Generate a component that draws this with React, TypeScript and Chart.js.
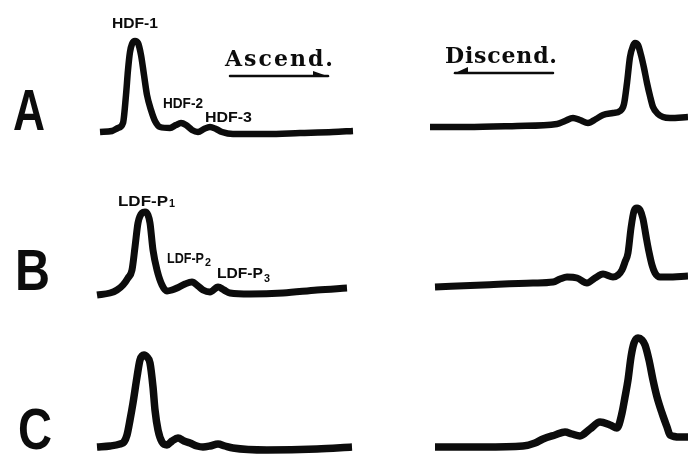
import React, { useEffect, useRef } from "react";
import { Chart, registerables } from "chart.js";

Chart.register(...registerables);

// ---- Data: elution position (x) and absorbance height (y) for each trace ----
const ascendAX = [10, 22, 28, 33, 36, 38, 40, 42, 45, 48, 51, 54, 57, 61, 65, 70, 80, 86, 91, 96, 102, 108, 114, 120, 126, 132, 143, 177, 210, 243, 263];
const ascendAY = [0, 1, 4, 9, 37, 62, 80, 88, 91, 89, 77, 57, 37, 22, 11, 5, 4, 7, 9, 7, 2, 0, 3, 5, 3, 0, -2, -2, -1, 0, 1];

const descendAX = [10, 47, 97, 137, 145, 153, 160, 168, 176, 183, 193, 200, 204, 207, 210, 213, 215, 218, 221, 224, 227, 230, 233, 238, 243, 250, 268];
const descendAY = [5, 5, 6, 8, 11, 14, 12, 9, 13, 17, 19, 21, 28, 49, 75, 86, 89, 87, 77, 64, 49, 36, 25, 18, 15, 14, 15];

const ascendBX = [7, 20, 27, 33, 38, 42, 45, 48, 52, 55, 58, 60, 63, 67, 72, 77, 82, 87, 95, 102, 108, 113, 120, 128, 134, 140, 160, 193, 227, 257];
const ascendBY = [0, 2, 5, 10, 17, 25, 48, 72, 82, 83, 80, 72, 45, 25, 10, 4, 5, 7, 11, 13, 9, 5, 3, 8, 5, 2, 1, 2, 5, 7];

const descendBX = [15, 63, 113, 133, 140, 147, 157, 167, 175, 183, 193, 198, 202, 205, 208, 211, 214, 217, 220, 223, 226, 229, 232, 235, 240, 247, 268];
const descendBY = [8, 10, 12, 13, 16, 18, 17, 12, 17, 21, 18, 20, 25, 33, 42, 67, 84, 87, 85, 76, 59, 43, 30, 22, 18, 18, 19];

const ascendCX = [7, 20, 30, 34, 37, 40, 43, 47, 50, 54, 57, 60, 63, 65, 68, 72, 77, 82, 88, 94, 100, 107, 113, 120, 128, 135, 143, 177, 227, 262];
const ascendCY = [3, 4, 6, 8, 15, 30, 47, 73, 90, 95, 93, 87, 63, 40, 20, 8, 5, 9, 12, 9, 7, 4, 3, 4, 6, 4, 2, 0, 1, 3];

const descendCX = [15, 63, 103, 115, 123, 135, 145, 152, 160, 170, 180, 190, 197, 202, 205, 208, 211, 214, 218, 222, 225, 229, 233, 237, 242, 247, 250, 260, 268];
const descendCY = [3, 3, 4, 7, 11, 15, 18, 16, 14, 21, 28, 25, 22, 37, 53, 70, 93, 107, 112, 110, 105, 90, 70, 53, 37, 23, 15, 13, 13];

const rowLetters = ["A", "B", "C"];
const peakNamesA = ["HDF-1", "HDF-2", "HDF-3"];
const peakNamesB = ["LDF-P", "LDF-P", "LDF-P"];
const peakSubsB = ["1", "2", "3"];
const directionLabels = ["Ascend.", "Discend."];

// ---- styles ----
const INK = "#0c0c0c";
const FONT_LETTER = 'bold 58px "Liberation Sans", Arial, sans-serif';
const FONT_TAG = 'bold 15px "Liberation Sans", Arial, sans-serif';
const FONT_SUB = 'bold 10px "Liberation Sans", Arial, sans-serif';
const FONT_TYPE = 'bold 22px "DejaVu Serif", "Liberation Serif", serif';

type Label = { text: string; x: number; y: number; font: string; w: number; sub?: string; subDy?: number; spread?: boolean };
type Arrow = { x1: number; x2: number; y: number; head: "start" | "end" };

type PanelProps = {
  left: number; top: number; width: number; height: number;
  xMin: number; xMax: number; yMin: number; yMax: number;
  xs: number[]; ys: number[]; lw: number;
  labels?: Label[]; arrows?: Arrow[];
};

function drawFitted(ctx: CanvasRenderingContext2D, text: string, px: number, py: number, font: string, w: number, spread?: boolean) {
  ctx.save();
  ctx.font = font;
  if (spread) {
    const m0 = ctx.measureText(text).width;
    const n = text.length;
    const gap = n > 1 ? (w - m0) / (n - 1) : 0;
    let cx = px;
    for (const ch of text) {
      ctx.fillText(ch, cx, py);
      cx += ctx.measureText(ch).width + gap;
    }
  } else {
    const m = ctx.measureText(text).width;
    ctx.translate(px, py);
    ctx.scale(w / m, 1);
    ctx.fillText(text, 0, 0);
  }
  ctx.restore();
}

function Panel(p: PanelProps) {
  const ref = useRef<HTMLCanvasElement | null>(null);
  useEffect(() => {
    if (!ref.current) return;
    const labels = p.labels || [];
    const arrows = p.arrows || [];
    const annot = {
      id: "annot",
      afterDatasetsDraw(chart: any) {
        const ctx: CanvasRenderingContext2D = chart.ctx;
        const sx = chart.scales.x;
        const sy = chart.scales.y;
        ctx.save();
        ctx.fillStyle = INK;
        ctx.strokeStyle = INK;
        ctx.textBaseline = "alphabetic";
        ctx.textAlign = "left";
        for (const l of labels) {
          const px = sx.getPixelForValue(l.x);
          const py = sy.getPixelForValue(l.y);
          drawFitted(ctx, l.text, px, py, l.font, l.w, l.spread);
          if (l.sub) {
            drawFitted(ctx, l.sub, px + l.w + 1, py + (l.subDy ?? 3), FONT_SUB, 6);
          }
        }
        for (const a of arrows) {
          const x1 = sx.getPixelForValue(a.x1);
          const x2 = sx.getPixelForValue(a.x2);
          const y = sy.getPixelForValue(a.y);
          ctx.lineWidth = 2.5;
          ctx.lineCap = "round";
          ctx.beginPath();
          ctx.moveTo(x1, y);
          ctx.lineTo(x2, y);
          ctx.stroke();
          ctx.beginPath();
          if (a.head === "end") {
            ctx.moveTo(x2 + 2, y + 1);
            ctx.lineTo(x2 - 15, y - 5);
            ctx.lineTo(x2 - 15, y + 1);
          } else {
            ctx.moveTo(x1 - 2, y + 1);
            ctx.lineTo(x1 + 13, y - 6);
            ctx.lineTo(x1 + 13, y + 1);
          }
          ctx.closePath();
          ctx.fill();
        }
        ctx.restore();
      },
    };
    const chart = new Chart(ref.current, {
      type: "line",
      data: {
        datasets: [
          {
            data: p.xs.map((x, i) => ({ x, y: p.ys[i] })),
            borderColor: INK,
            borderWidth: p.lw,
            pointRadius: 0,
            cubicInterpolationMode: "monotone",
            borderCapStyle: "butt",
            borderJoinStyle: "round",
            fill: false,
          },
        ],
      },
      options: {
        responsive: false,
        maintainAspectRatio: false,
        animation: false,
        events: [],
        layout: { padding: 0 },
        plugins: { legend: { display: false }, tooltip: { enabled: false }, title: { display: false } },
        scales: {
          x: { type: "linear", min: p.xMin, max: p.xMax, display: false },
          y: { type: "linear", min: p.yMin, max: p.yMax, display: false },
        },
      } as any,
      plugins: [annot],
    } as any);
    return () => chart.destroy();
  }, []);
  return (
    <canvas
      ref={ref}
      width={p.width}
      height={p.height}
      style={{ position: "absolute", left: p.left, top: p.top, width: p.width, height: p.height }}
    />
  );
}

export default function App() {
  const L = { left: 0, width: 360, xMin: -90, xMax: 270 };
  const R = { left: 400, width: 288, xMin: -20, xMax: 268 };
  const rowA = { top: 0, height: 160, yMin: -28, yMax: 132, lw: 6.5 };
  const rowB = { top: 160, height: 148, yMin: -13, yMax: 135, lw: 7 };
  const rowC = { top: 308, height: 146, yMin: -4, yMax: 142, lw: 7.5 };
  return (
    <div style={{ position: "fixed", left: 0, top: 0, width: 688, height: 454, overflow: "hidden", background: "#fff" }}>
      <Panel {...L} {...rowA} xs={ascendAX} ys={ascendAY}
        labels={[
          { text: rowLetters[0], x: -77, y: 2, font: FONT_LETTER, w: 32 },
          { text: peakNamesA[0], x: 22, y: 104, font: FONT_TAG, w: 46 },
          { text: peakNamesA[1], x: 73, y: 24, font: FONT_TAG, w: 40 },
          { text: peakNamesA[2], x: 115, y: 10, font: FONT_TAG, w: 47 },
          { text: directionLabels[0], x: 135, y: 66, font: FONT_TYPE, w: 108, spread: true },
        ]}
        arrows={[{ x1: 140, x2: 238, y: 56, head: "end" }]}
      />
      <Panel {...R} {...rowA} xs={descendAX} ys={descendAY}
        labels={[{ text: directionLabels[1], x: 25, y: 69, font: FONT_TYPE, w: 112, spread: true }]}
        arrows={[{ x1: 35, x2: 133, y: 59, head: "start" }]}
      />
      <Panel {...L} {...rowB} xs={ascendBX} ys={ascendBY}
        labels={[
          { text: rowLetters[1], x: -75, y: 5, font: FONT_LETTER, w: 35 },
          { text: peakNamesB[0], sub: peakSubsB[0], subDy: 1, x: 28, y: 89, font: FONT_TAG, w: 50 },
          { text: peakNamesB[1], sub: peakSubsB[1], subDy: 3, x: 77, y: 32, font: FONT_TAG, w: 37 },
          { text: peakNamesB[2], sub: peakSubsB[2], subDy: 4, x: 127, y: 17, font: FONT_TAG, w: 46 },
        ]}
      />
      <Panel {...R} {...rowB} xs={descendBX} ys={descendBY} />
      <Panel {...L} {...rowC} xs={ascendCX} ys={ascendCY}
        labels={[{ text: rowLetters[2], x: -72, y: 1, font: FONT_LETTER, w: 34 }]}
      />
      <Panel {...R} {...rowC} xs={descendCX} ys={descendCY} />
    </div>
  );
}
